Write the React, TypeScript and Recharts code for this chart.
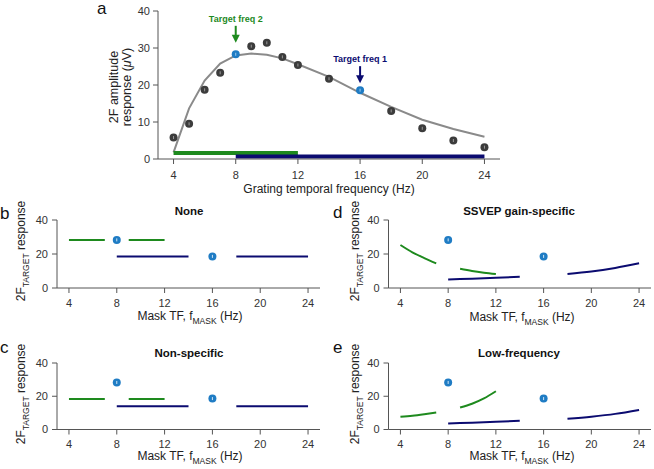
import React from "react";
import { ComposedChart, Line, Scatter, XAxis, YAxis } from "recharts";

const GREEN = "#1e8a1e";
const NAVY = "#0b0b70";
const BLUE = "#1f7cc4";
const DARK = "#3c3c3c";
const GREY = "#8a8a8a";
const AXIS = "#555";
const FONT = '"Liberation Sans", Arial, sans-serif';

const xTicks = [4, 8, 12, 16, 20, 24];
const yTicksA = [0, 10, 20, 30, 40];
const yTicksMask = [0, 20, 40];

// panel a: measured 2F amplitude vs grating TF, plus the fitted curve
const gratingTf = [4, 5, 6, 7, 8, 9, 10, 11, 12, 14, 16, 18, 20, 22, 24];
const amplitude = [5.8, 9.5, 18.7, 23.3, 28.3, 30.5, 31.4, 27.6, 25.4, 21.7, 18.6, 13.0, 8.3, 5.0, 3.2];
const fitAmplitude = [1.8, 13.7, 21.2, 25.8, 28.0, 28.5, 28.2, 27.2, 25.6, 22.2, 17.9, 14.1, 10.6, 8.1, 6.0];
const targetFreqs = [8, 16];
const targetLabels = ["Target freq 2", "Target freq 1"];
const targetColors = [GREEN, NAVY];
const arrowTips = [31.4, 20.5];
const maskRange2 = [4, 12];
const maskBar2 = [1.6, 1.6];
const maskRange1 = [8, 24];
const maskBar1 = [0.7, 0.7];

// panels b-e: predicted target response vs mask TF
const targetResp = [28.3, 18.6];
const lowTf = [4, 5, 6, 7];
const midTf = [9, 10, 11, 12];
const nearTf = [8, 10, 12, 14];
const farTf = [18, 20, 22, 24];

const noneGreenLow = [28.3, 28.3, 28.3, 28.3];
const noneGreenMid = [28.3, 28.3, 28.3, 28.3];
const noneNavyNear = [18.6, 18.6, 18.6, 18.6];
const noneNavyFar = [18.6, 18.6, 18.6, 18.6];

const nonspecGreenLow = [18.4, 18.4, 18.4, 18.4];
const nonspecGreenMid = [18.4, 18.4, 18.4, 18.4];
const nonspecNavyNear = [14.0, 14.0, 14.0, 14.0];
const nonspecNavyFar = [14.0, 14.0, 14.0, 14.0];

const gainGreenLow = [25.3, 21.0, 17.6, 14.5];
const gainGreenMid = [11.3, 10.0, 9.0, 8.2];
const gainNavyNear = [5.0, 5.5, 6.0, 6.6];
const gainNavyFar = [8.3, 9.7, 11.8, 14.5];

const lowGreenLow = [7.6, 8.3, 9.2, 10.2];
const lowGreenMid = [13.2, 15.5, 18.7, 23.0];
const lowNavyNear = [3.6, 4.1, 4.6, 5.2];
const lowNavyFar = [6.4, 7.7, 9.4, 11.8];

const rows = (xs: number[], ys: number[]) => xs.map((x, i) => ({ x, y: ys[i] }));

const pointRows = gratingTf.map((x, i) => ({
  x,
  y: amplitude[i],
  target: targetFreqs.includes(x),
}));
const arrowRows = targetFreqs.map((x, i) => ({
  x,
  y: arrowTips[i],
  label: targetLabels[i],
  color: targetColors[i],
}));
const targetRows = rows(targetFreqs, targetResp);

const tickStyle = { fill: "#333", fontSize: 11, fontFamily: FONT };

const renderPoint = (p: any) => {
  const { cx, cy, payload } = p;
  const fill = payload.target ? BLUE : DARK;
  return (
    <g>
      <circle cx={cx} cy={cy} r={4} fill={fill} />
      <line x1={cx} x2={cx} y1={cy - 1.5} y2={cy + 1.5} stroke={payload.target ? "#9cc8ea" : "#999"} strokeWidth={1} />
    </g>
  );
};

const renderArrow = (p: any) => {
  const { cx, cy, payload } = p;
  return (
    <g>
      <text x={cx} y={cy - 21} textAnchor="middle" fontSize={9} fontWeight="bold" fill={payload.color} fontFamily={FONT}>
        {payload.label}
      </text>
      <line x1={cx} x2={cx} y1={cy - 17} y2={cy - 6} stroke={payload.color} strokeWidth={2} />
      <polygon points={`${cx - 4},${cy - 8} ${cx + 4},${cy - 8} ${cx},${cy}`} fill={payload.color} />
    </g>
  );
};

function PanelA() {
  return (
    <div style={{ position: "absolute", left: 0, top: 0 }}>
      <ComposedChart width={654} height={200} margin={{ top: 11, right: 154, bottom: 11, left: 118 }}>
        <XAxis
          type="number"
          dataKey="x"
          domain={[3, 25]}
          ticks={xTicks}
          interval={0}
          allowDataOverflow
          height={30}
          tickSize={5}
          tickMargin={7}
          stroke={AXIS}
          tick={tickStyle}
        />
        <YAxis
          type="number"
          dataKey="y"
          domain={[0, 40]}
          ticks={yTicksA}
          interval={0}
          allowDataOverflow
          width={40}
          tickSize={5}
          tickMargin={3}
          stroke={AXIS}
          tick={tickStyle}
        />
        <Line data={rows(gratingTf, fitAmplitude)} dataKey="y" type="linear" stroke={GREY} strokeWidth={2} dot={false} isAnimationActive={false} />
        <Line data={rows(maskRange2, maskBar2)} dataKey="y" stroke={GREEN} strokeWidth={4} dot={false} isAnimationActive={false} />
        <Line data={rows(maskRange1, maskBar1)} dataKey="y" stroke={NAVY} strokeWidth={4} dot={false} isAnimationActive={false} />
        <Scatter data={pointRows} dataKey="y" shape={renderPoint} isAnimationActive={false} />
        <Scatter data={arrowRows} dataKey="y" shape={renderArrow} isAnimationActive={false} />
      </ComposedChart>
    </div>
  );
}

const renderTarget = (p: any) => {
  const { cx, cy } = p;
  return (
    <g>
      <circle cx={cx} cy={cy} r={4} fill={BLUE} />
      <line x1={cx} x2={cx} y1={cy - 1.5} y2={cy + 1.5} stroke="#cfe4f5" strokeWidth={1} />
    </g>
  );
};

type MaskProps = {
  left: number;
  top: number;
  plotLeft: number;
  plotRight: number;
  plotTop: number;
  plotBottom: number;
  greenLow: number[];
  greenMid: number[];
  navyNear: number[];
  navyFar: number[];
};

function MaskPanel(props: MaskProps) {
  const { left, top, plotLeft, plotRight, plotTop, plotBottom } = props;
  const width = plotRight - left + 3;
  const height = plotBottom - top + 37;
  const series = [
    { d: rows(lowTf, props.greenLow), c: GREEN },
    { d: rows(midTf, props.greenMid), c: GREEN },
    { d: rows(nearTf, props.navyNear), c: NAVY },
    { d: rows(farTf, props.navyFar), c: NAVY },
  ];
  return (
    <div style={{ position: "absolute", left, top }}>
      <ComposedChart
        width={width}
        height={height}
        margin={{ top: plotTop - top, right: 3, bottom: 7, left: plotLeft - left - 30 }}
      >
        <XAxis
          type="number"
          dataKey="x"
          domain={[3, 25]}
          ticks={xTicks}
          interval={0}
          allowDataOverflow
          height={30}
          tickSize={5}
          tickMargin={6}
          stroke={AXIS}
          tick={tickStyle}
        />
        <YAxis
          type="number"
          dataKey="y"
          domain={[0, 40]}
          ticks={yTicksMask}
          interval={0}
          allowDataOverflow
          width={30}
          tickSize={5}
          tickMargin={4}
          stroke={AXIS}
          tick={tickStyle}
        />
        {series.map((s, i) => (
          <Line key={i} data={s.d} dataKey="y" type="monotone" stroke={s.c} strokeWidth={2} dot={false} isAnimationActive={false} />
        ))}
        <Scatter data={targetRows} dataKey="y" shape={renderTarget} isAnimationActive={false} />
      </ComposedChart>
    </div>
  );
}

function YLabelMask({ x, y }: { x: number; y: number }) {
  return (
    <text x={x} y={y} transform={`rotate(-90, ${x}, ${y})`} textAnchor="middle" fontSize={12} fill="#222">
      2F
      <tspan fontSize={8.5} dy={4}>TARGET</tspan>
      <tspan dy={-4}> response</tspan>
    </text>
  );
}

function XLabelMask({ x, y }: { x: number; y: number }) {
  return (
    <text x={x} y={y} textAnchor="middle" fontSize={12} fill="#222">
      Mask TF, f
      <tspan fontSize={8.5} dy={4}>MASK</tspan>
      <tspan dy={-4}> (Hz)</tspan>
    </text>
  );
}

function Overlay() {
  const title = { fontSize: 11.5, fontWeight: "bold" as const, fill: "#111", textAnchor: "middle" as const };
  const letter = { fontSize: 17, fill: "#111" };
  return (
    <svg width={654} height={469} style={{ position: "absolute", left: 0, top: 0, pointerEvents: "none", fontFamily: FONT }}>
      <text x={97} y={14} {...letter}>a</text>
      <text x={118} y={87} transform="rotate(-90, 118, 87)" textAnchor="middle" fontSize={12.5} fill="#222">2F amplitude</text>
      <text x={131} y={87} transform="rotate(-90, 131, 87)" textAnchor="middle" fontSize={12.5} fill="#222">
        response (<tspan fontStyle="italic">μ</tspan>V)
      </text>
      <text x={329} y={193} textAnchor="middle" fontSize={12} fill="#222">Grating temporal frequency (Hz)</text>

      <text x={0} y={219} {...letter}>b</text>
      <text x={0} y={353} {...letter}>c</text>
      <text x={333} y={218} {...letter}>d</text>
      <text x={333} y={353} {...letter}>e</text>

      <text x={189} y={215} {...title}>None</text>
      <text x={189} y={357} {...title}>Non-specific</text>
      <text x={519} y={215} {...title}>SSVEP gain-specific</text>
      <text x={519} y={357} {...title}>Low-frequency</text>

      <YLabelMask x={25} y={251} />
      <YLabelMask x={25} y={394} />
      <YLabelMask x={359} y={251} />
      <YLabelMask x={359} y={394} />

      <XLabelMask x={190} y={320} />
      <XLabelMask x={190} y={460} />
      <XLabelMask x={522} y={321} />
      <XLabelMask x={522} y={460} />
    </svg>
  );
}

export default function App() {
  return (
    <div style={{ position: "absolute", left: 0, top: 0, width: 654, height: 469, background: "#fff", fontFamily: FONT, overflow: "hidden" }}>
      <PanelA />
      <MaskPanel left={0} top={200} plotLeft={57} plotRight={320} plotTop={220} plotBottom={288}
        greenLow={noneGreenLow} greenMid={noneGreenMid} navyNear={noneNavyNear} navyFar={noneNavyFar} />
      <MaskPanel left={0} top={343} plotLeft={57} plotRight={320} plotTop={363} plotBottom={429.5}
        greenLow={nonspecGreenLow} greenMid={nonspecGreenMid} navyNear={nonspecNavyNear} navyFar={nonspecNavyFar} />
      <MaskPanel left={330} top={200} plotLeft={388.5} plotRight={651} plotTop={220} plotBottom={288}
        greenLow={gainGreenLow} greenMid={gainGreenMid} navyNear={gainNavyNear} navyFar={gainNavyFar} />
      <MaskPanel left={330} top={343} plotLeft={388.5} plotRight={651} plotTop={363} plotBottom={429.5}
        greenLow={lowGreenLow} greenMid={lowGreenMid} navyNear={lowNavyNear} navyFar={lowNavyFar} />
      <Overlay />
    </div>
  );
}
